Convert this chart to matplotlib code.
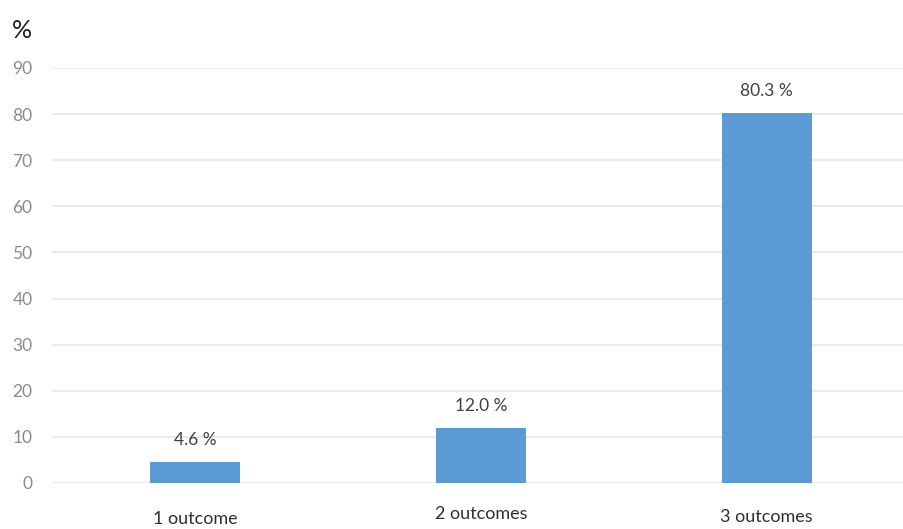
import matplotlib
matplotlib.use("Agg")
import matplotlib.pyplot as plt
from matplotlib.transforms import ScaledTranslation

categories = ["1 outcome", "2 outcomes", "3 outcomes"]
values = [4.6, 12.0, 80.3]
value_labels = ["4.6 %", "12.0 %", "80.3 %"]
yticks = [0, 10, 20, 30, 40, 50, 60, 70, 80, 90]

plt.rcParams['font.family'] = ['Lato', 'DejaVu Sans']

fig = plt.figure(figsize=(9.04, 5.29), dpi=100)
ax = fig.add_axes([0.0575, 0.087, 0.9425, 0.7845])

x = list(range(len(categories)))
ax.bar(x, values, width=0.315, color='#5B9BD5', zorder=3)
for xi, v, lab in zip(x, values, value_labels):
    ax.annotate(lab, (xi, v), xytext=(0, 22), textcoords='offset pixels',
                ha='center', va='center', fontsize=12.5, color='#404040', zorder=4)

ax.set_xlim(-0.5, 2.48)
ax.set_ylim(0, 90)
ax.set_yticks(yticks)
ax.set_xticks(x)
ax.set_xticklabels(categories, fontsize=13, color='#303030')
ax.tick_params(axis='x', length=0, pad=19)
ax.tick_params(axis='y', length=0, pad=14, labelsize=12.5, labelcolor='#8a8a8a')
ax.yaxis.grid(True, color='#e6e6e6', linewidth=1.2, zorder=0)
for s in ax.spines.values():
    s.set_visible(False)

# slight per-label vertical offsets as in the reference
offsets = [-2, 3, 0]
for lbl, dy in zip(ax.get_xticklabels(), offsets):
    lbl.set_transform(lbl.get_transform() + ScaledTranslation(0, dy / 100, fig.dpi_scale_trans))

fig.text(12 / 904, 1 - 30 / 529, "%", fontsize=18, color='#202020', ha='left', va='center')

fig.savefig("out.png", dpi=100)
